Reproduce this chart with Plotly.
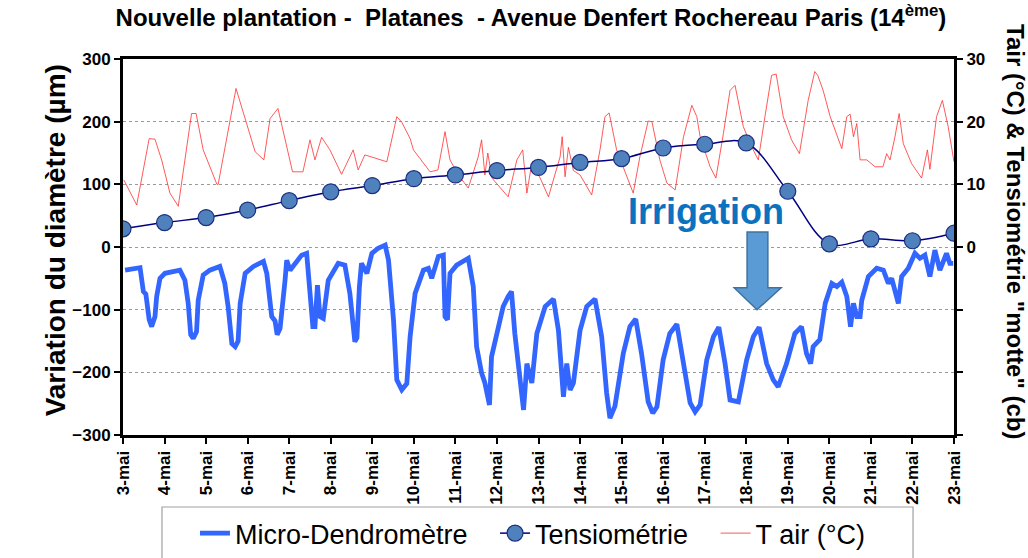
import plotly.graph_objects as go

# Jours de mai (axe x en jour du mois)
jours = [3, 4, 5, 6, 7, 8, 9, 10, 11, 12, 13, 14, 15, 16, 17, 18, 19, 20, 21, 22, 23]
jours_lbl = ["3-mai", "4-mai", "5-mai", "6-mai", "7-mai", "8-mai", "9-mai", "10-mai",
             "11-mai", "12-mai", "13-mai", "14-mai", "15-mai", "16-mai", "17-mai",
             "18-mai", "19-mai", "20-mai", "21-mai", "22-mai", "23-mai"]

# Tensiométrie "motte" (cb), relevé journalier
tensio_val = [2.9, 3.9, 4.7, 5.9, 7.4, 8.8, 9.8, 10.9, 11.5, 12.2, 12.7, 13.5, 14.1,
              15.8, 16.4, 16.6, 8.9, 0.5, 1.3, 1.0, 2.2]

# Température de l'air (°C)
tair_jour = [3.02, 3.33, 3.63, 3.77, 3.93, 4.13, 4.33, 4.65, 4.76, 4.93, 5.26, 5.29,
             5.72, 5.94, 6.18, 6.39, 6.54, 6.73, 6.90, 7.08, 7.33, 7.50, 7.62, 7.78,
             7.98, 8.26, 8.54, 8.66, 8.82, 9.35, 9.59, 9.71, 9.91, 9.99, 10.39, 10.58,
             10.75, 10.87, 11.07, 11.31, 11.55, 11.63, 11.71, 11.78, 11.88, 12.07,
             12.27, 12.48, 12.62, 12.72, 12.84, 13.04, 13.24, 13.52, 13.57, 13.64,
             13.72, 13.84, 14.00, 14.28, 14.48, 14.60, 14.70, 14.88, 15.12, 15.28,
             15.44, 15.64, 15.73, 15.92, 16.09, 16.29, 16.49, 16.69, 16.81, 16.89,
             17.13, 17.27, 17.45, 17.61, 17.73, 17.93, 18.13, 18.29, 18.45, 18.61,
             18.72, 18.89, 19.09, 19.28, 19.49, 19.65, 19.72, 19.85, 20.02, 20.30,
             20.42, 20.50, 20.58, 20.66, 20.74, 20.90, 21.10, 21.29, 21.38, 21.46,
             21.58, 21.68, 21.78, 21.98, 22.22, 22.36, 22.42, 22.58, 22.72, 22.86,
             23.00]
tair_val = [10.7, 6.7, 17.3, 17.2, 13.9, 8.6, 6.5, 21.3, 21.3, 15.5, 10.0, 10.0,
            25.3, 20.3, 15.2, 13.9, 20.5, 22.1, 17.3, 12.0, 12.0, 17.1, 13.9, 17.5,
            15.5, 11.6, 15.5, 12.3, 14.7, 13.6, 20.8, 19.9, 17.3, 15.5, 12.0, 12.3,
            18.4, 13.9, 11.5, 9.4, 14.4, 17.1, 11.5, 15.0, 11.0, 9.6,
            8.0, 13.9, 15.5, 8.6, 13.4, 11.0, 8.0, 14.4, 17.6, 11.2,
            15.9, 12.2, 11.5, 8.3, 15.5, 20.8, 21.4, 15.5, 11.5, 8.6,
            14.4, 20.1, 20.0, 13.9, 10.2, 9.1, 17.6, 22.6, 20.8, 17.6,
            12.8, 11.0, 18.1, 25.0, 25.8, 19.2, 16.0, 13.9, 20.8, 27.4,
            27.6, 20.8, 17.1, 14.9, 23.4, 28.0, 27.4, 25.0, 20.8, 15.7,
            20.8, 21.2, 17.6, 19.7, 13.9, 13.9, 12.8, 12.8, 14.9, 13.9,
            17.6, 21.3, 16.5, 13.3, 11.0, 15.5, 12.4, 20.8, 23.4, 19.2,
            13.6]

# Micro-dendromètre : variation du diamètre (µm)
dendro_jour = [3.05, 3.41, 3.49, 3.55, 3.63, 3.69, 3.77, 3.81, 3.89, 4.01, 4.37, 4.49,
               4.57, 4.63, 4.69, 4.77, 4.81, 4.93, 5.09, 5.33, 5.45, 5.53, 5.62, 5.70,
               5.77, 5.82, 5.94, 6.14, 6.38, 6.46, 6.58, 6.66, 6.71, 6.78, 6.90, 6.94,
               7.02, 7.18, 7.30, 7.42, 7.50, 7.57, 7.62, 7.68, 7.74, 7.82, 7.94, 8.18,
               8.34, 8.46, 8.58, 8.63, 8.69, 8.74, 8.87, 8.99, 9.14, 9.31, 9.39, 9.51,
               9.59, 9.71, 9.83, 9.91, 10.03, 10.23, 10.35, 10.43, 10.59, 10.71, 10.75,
               10.81, 10.87, 11.03, 11.31, 11.43, 11.51, 11.63, 11.71, 11.82, 11.87,
               12.03, 12.15, 12.27, 12.35, 12.43, 12.55, 12.64, 12.72, 12.84, 12.96,
               13.16, 13.36, 13.48, 13.60, 13.68, 13.76, 13.84, 14.00, 14.16, 14.36,
               14.52, 14.64, 14.72, 14.84, 15.04, 15.20, 15.34, 15.48, 15.64, 15.75,
               15.85, 16.00, 16.16, 16.33, 16.49, 16.65, 16.77, 16.89, 17.05, 17.21,
               17.34, 17.49, 17.61, 17.81, 18.01, 18.17, 18.31, 18.49, 18.65, 18.77,
               18.97, 19.17, 19.33, 19.45, 19.55, 19.61, 19.77, 19.90, 20.06, 20.18,
               20.30, 20.42, 20.51, 20.58, 20.66, 20.74, 20.78, 20.94, 21.14, 21.30,
               21.42, 21.50, 21.66, 21.74, 21.90, 22.06, 22.18, 22.30, 22.42, 22.54,
               22.66, 22.82, 22.90, 22.98]
dendro_val = [-37, -33, -71, -75, -116, -127, -111, -79, -50, -42, -37, -53,
              -90, -140, -146, -135, -85, -45, -37, -31, -58, -95, -154, -159,
              -150, -90, -42, -31, -23, -42, -111, -118, -140, -130, -53, -21,
              -37, -23, -13, -10, -63, -127, -127, -61, -111, -114, -53, -26,
              -29, -74, -151, -145, -63, -26, -42, -10, -2, 3, -21, -116,
              -212, -228, -218, -143, -74, -37, -34, -50, -15, -13, -111,
              -116, -42, -29, -18, -63, -159, -201, -217, -252, -175,
              -127, -95, -79, -71, -138, -201, -260, -186, -217, -138,
              -95, -83, -133, -239, -186, -228, -217, -133, -95, -83,
              -143, -233, -273, -254, -170, -127, -115, -170, -247, -265,
              -255, -180, -138, -123, -186, -249, -263, -252, -180, -143,
              -128, -186, -244, -247, -180, -143, -128, -186, -212, -223,
              -186, -138, -127, -170, -186, -159, -148, -90, -58, -63,
              -56, -79, -127, -90, -111, -111, -85, -47, -34, -37,
              -58, -50, -90, -47, -34, -10, -18, -13, -47, -5,
              -37, -10, -26, -26]

FONT = "Arial, Liberation Sans, sans-serif"
NBSP = "\u00a0"

fig = go.Figure()

fig.add_trace(go.Scatter(
    x=tair_jour, y=tair_val, name="T air (°C)", yaxis="y2", mode="lines",
    line=dict(color="#ff3030", width=0.8), legendrank=3,
))
fig.add_trace(go.Scatter(
    x=dendro_jour, y=dendro_val, name="Micro-Dendromètre" + NBSP * 3, mode="lines",
    line=dict(color="#3366ff", width=4.8), legendrank=1,
))
fig.add_trace(go.Scatter(
    x=jours, y=tensio_val, name="Tensiométrie" + NBSP * 3, yaxis="y2",
    mode="lines+markers",
    line=dict(color="#000080", width=1.5, shape="spline"),
    marker=dict(size=16, color="#4f81bd", line=dict(color="#1c2f80", width=1.2)),
    legendrank=2,
))

# Flèche "Irrigation"
ax0, ax1, hx0, hx1, tipx = 18.02, 18.52, 17.71, 18.84, 18.26
ytop, yhead, ytip = 24, -65, -100
arrow_path = (f"M {ax0},{ytop} L {ax1},{ytop} L {ax1},{yhead} L {hx1},{yhead} "
              f"L {tipx},{ytip} L {hx0},{yhead} L {ax0},{yhead} Z")

tick_font = dict(family=FONT, size=17, weight="bold", color="black")

fig.update_layout(
    width=1028, height=558,
    margin=dict(l=123, r=74, t=59, b=123, autoexpand=False),
    plot_bgcolor="white", paper_bgcolor="white",
    font=dict(family=FONT, color="black"),
    showlegend=True,
    title=dict(
        text="Nouvelle plantation -  Platanes  - Avenue Denfert Rochereau Paris (14<sup>ème</sup>)",
        x=0.5165, xanchor="center", y=1 - 18 / 558, yanchor="middle",
        font=dict(family=FONT, size=24, weight="bold", color="black"),
    ),
    xaxis=dict(
        range=[3, 23], tickvals=jours, ticktext=jours_lbl, tickangle=-90,
        ticks="outside", ticklen=6, tickwidth=2, tickcolor="black",
        showline=True, linecolor="black", linewidth=3, mirror=True,
        showgrid=False, zeroline=False, tickfont=tick_font,
    ),
    yaxis=dict(
        range=[-300, 300], dtick=100, ticks="outside", ticklen=6, tickwidth=2,
        tickcolor="black", showline=True, linecolor="black", linewidth=3,
        showgrid=True, gridcolor="#9a9a9a", gridwidth=1, griddash="dot",
        zeroline=False, tickfont=tick_font,
    ),
    yaxis2=dict(
        range=[-30, 30], overlaying="y", side="right",
        tickvals=[0, 10, 20, 30],
        ticks="outside", ticklen=6, tickwidth=2, tickcolor="black",
        minor=dict(tickvals=[-30, -20, -10], ticks="outside", ticklen=6,
                   tickwidth=2, tickcolor="black", showgrid=False),
        showline=True, linecolor="black", linewidth=3, showgrid=False, zeroline=False,
        tickfont=tick_font,
    ),
    legend=dict(
        orientation="h", x=0.0866, xanchor="left", y=-0.197, yanchor="top",
        font=dict(family=FONT, size=27, color="black"),
        bgcolor="rgba(0,0,0,0)", borderwidth=0,
        traceorder="normal",
    ),
    shapes=[
        dict(type="rect", xref="paper", yref="paper", x0=0.0469, x1=0.9507,
             y0=-0.36, y1=-0.1915, line=dict(color="#a0a0a0", width=1.2),
             fillcolor="rgba(0,0,0,0)", layer="below"),
        dict(type="path", xref="x", yref="y", path=arrow_path,
             fillcolor="#5b9bd5", line=dict(color="#41719c", width=1.5)),
    ],
    annotations=[
        dict(text="Variation du diamètre (µm)", xref="paper", yref="paper",
             x=-0.1023, y=0.519, textangle=-90, showarrow=False,
             font=dict(family=FONT, size=28, weight="bold", color="black")),
        dict(text='Tair (°C) & Tensiométrie "motte" (cb)', xref="paper", yref="paper",
             x=1.092, y=0.54, textangle=90, showarrow=False,
             font=dict(family=FONT, size=24, weight="bold", color="black")),
        dict(text="Irrigation", xref="x", yref="y", x=17.03, y=56, showarrow=False,
             font=dict(family=FONT, size=36, weight="bold", color="#0b72c0")),
    ],
)

fig.write_html("out.html")
